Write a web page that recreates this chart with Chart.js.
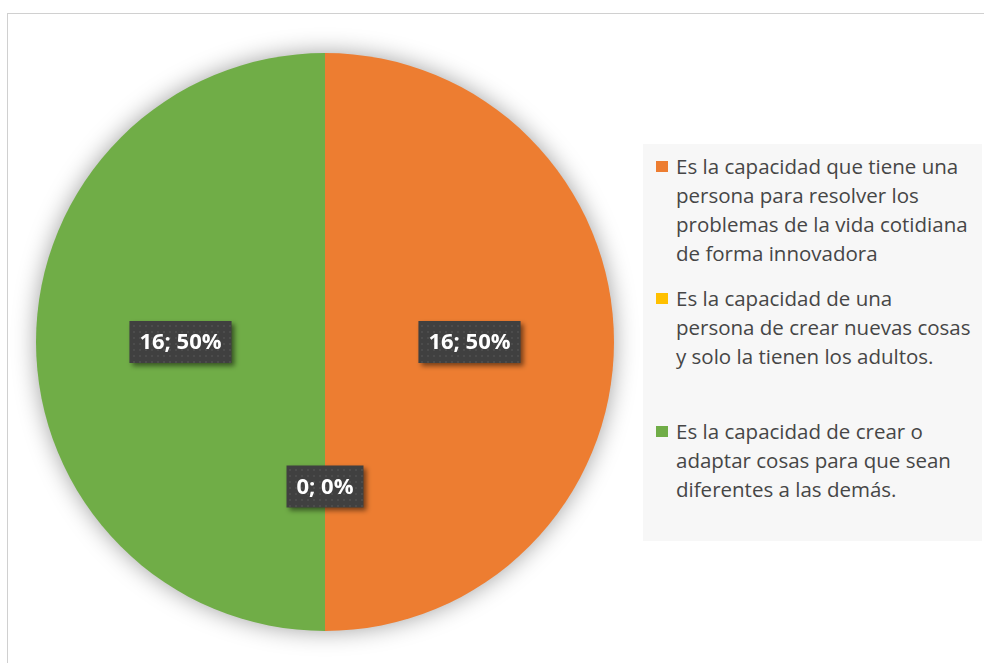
<!DOCTYPE html>
<html>
<head>
<meta charset="utf-8">
<script src="https://cdn.jsdelivr.net/npm/chart.js@4.4.1/dist/chart.umd.min.js"></script>
<style>
  html, body { margin: 0; padding: 0; background: #fff; }
  #wrap { position: relative; width: 984px; height: 663px; overflow: hidden; }
  #frame { position: absolute; left: 7px; top: 13px; width: 1000px; height: 700px;
           border-left: 1px solid #d0d0d0; border-top: 1px solid #d0d0d0; }
  #chart { position: absolute; left: 0; top: 0; }
  #legend { position: absolute; left: 643px; top: 144px; width: 339px; height: 397px;
            background: #f7f7f7; font-family: "Open Sans", sans-serif; font-size: 20.5px;
            color: #464646; }
  .item { position: relative; height: 132.3px; }
  .swatch { position: absolute; left: 13px; top: 17px; width: 12px; height: 11px; }
  .text { position: absolute; left: 33px; top: 8px; line-height: 29px; white-space: nowrap; }
</style>
</head>
<body>
<div id="wrap">
  <div id="frame"></div>
  <canvas id="chart" width="984" height="663"></canvas>
  <div id="legend"></div>
</div>
<script>
const categories = [
  ['Es la capacidad que tiene una', 'persona para resolver los', 'problemas de la vida cotidiana', 'de forma innovadora'],
  ['Es la capacidad de una', 'persona de crear nuevas cosas', 'y solo la tienen los adultos.'],
  ['Es la capacidad de crear o', 'adaptar cosas para que sean', 'diferentes a las demás.']
];
const values = [16, 0, 16];
const colors = ['#ED7D31', '#FFC000', '#70AD47'];

const total = values.reduce((a, b) => a + b, 0);

// dotted fill for the label boxes
function dotPattern(ctx) {
  const c = document.createElement('canvas');
  c.width = 6; c.height = 6;
  const p = c.getContext('2d');
  p.fillStyle = '#404040';
  p.fillRect(0, 0, 6, 6);
  p.fillStyle = '#4c4c4c';
  p.fillRect(1, 1, 2, 2);
  return ctx.createPattern(c, 'repeat');
}

const pieShadow = {
  id: 'pieShadow',
  beforeDatasetsDraw(chart) {
    const arc = chart.getDatasetMeta(0).data[0];
    const ctx = chart.ctx;
    ctx.save();
    ctx.shadowColor = 'rgba(0,0,0,0.4)';
    ctx.shadowBlur = 24;
    ctx.fillStyle = '#fff';
    ctx.beginPath();
    ctx.arc(arc.x, arc.y, arc.outerRadius - 1, 0, Math.PI * 2);
    ctx.fill();
    ctx.restore();
  }
};

const boxLabels = {
  id: 'boxLabels',
  afterDatasetsDraw(chart) {
    const ctx = chart.ctx;
    const fill = dotPattern(ctx);
    ctx.save();
    ctx.font = 'bold 22px "Open Sans", sans-serif';
    ctx.textAlign = 'center';
    ctx.textBaseline = 'middle';
    chart.getDatasetMeta(0).data.forEach((arc, i) => {
      const v = values[i];
      const txt = v + '; ' + Math.round(v / total * 100) + '%';
      const pos = arc.tooltipPosition();
      const w = ctx.measureText(txt).width + 20;
      const h = 42;
      ctx.save();
      ctx.shadowColor = 'rgba(0,0,0,0.5)';
      ctx.shadowBlur = 5;
      ctx.shadowOffsetX = 3;
      ctx.shadowOffsetY = 3;
      ctx.fillStyle = fill;
      ctx.fillRect(pos.x - w / 2, pos.y - h / 2, w, h);
      ctx.restore();
      ctx.fillStyle = '#fff';
      ctx.fillText(txt, pos.x, pos.y + 1);
    });
    ctx.restore();
  }
};

const chart = new Chart(document.getElementById('chart'), {
  type: 'pie',
  data: {
    labels: categories,
    datasets: [{
      data: values,
      backgroundColor: colors,
      borderWidth: 0
    }]
  },
  options: {
    responsive: false,
    animation: false,
    layout: { padding: { left: 36, top: 53, right: 370, bottom: 32 } },
    plugins: {
      legend: { display: false },
      tooltip: { enabled: false }
    }
  },
  plugins: [pieShadow, boxLabels]
});

const legend = document.getElementById('legend');
categories.forEach((lines, i) => {
  const item = document.createElement('div');
  item.className = 'item';
  const sw = document.createElement('div');
  sw.className = 'swatch';
  sw.style.background = colors[i];
  item.appendChild(sw);
  const t = document.createElement('div');
  t.className = 'text';
  lines.forEach((line, j) => {
    if (j) t.appendChild(document.createElement('br'));
    t.appendChild(document.createTextNode(line));
  });
  item.appendChild(t);
  legend.appendChild(item);
});
</script>
</body>
</html>
